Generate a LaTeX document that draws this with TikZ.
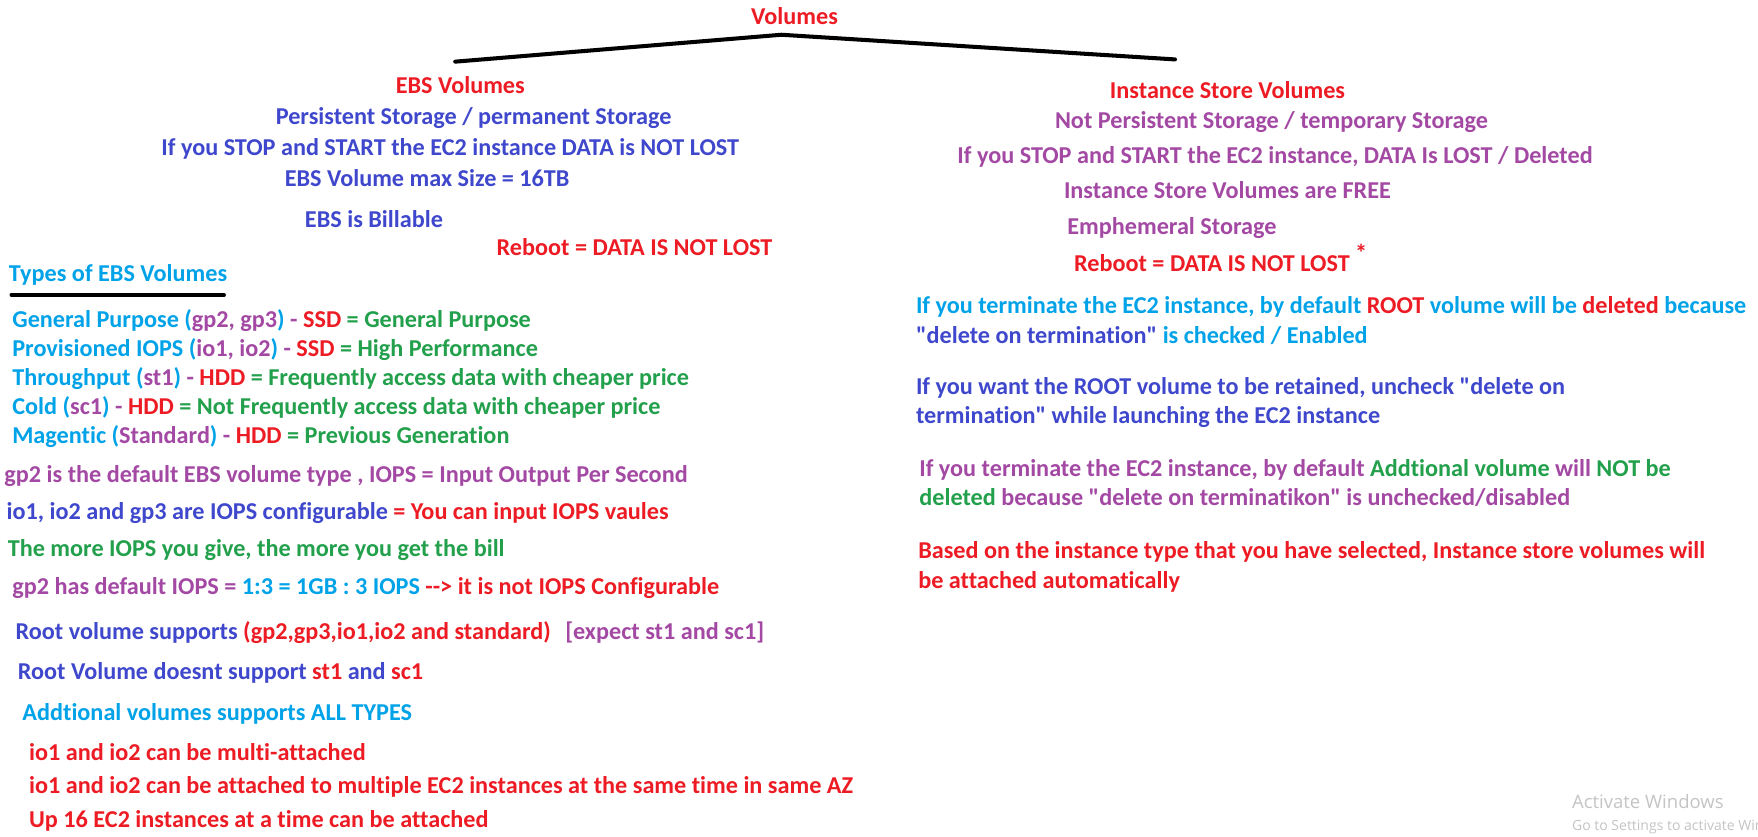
\documentclass[tikz,border=0pt]{standalone}
\usepackage{fontspec}
\setmainfont{Carlito}[Ligatures={TeX,NoCommon}]
\newfontfamily\wmfont{Open Sans}
\definecolor{cRed}{HTML}{ED1C24}
\definecolor{cInd}{HTML}{3F48CC}
\definecolor{cPur}{HTML}{A349A4}
\definecolor{cCy}{HTML}{00A2E8}
\definecolor{cGr}{HTML}{22A04C}
\definecolor{cWm}{HTML}{C4C4C4}
\newcommand{\rd}[1]{\textcolor{cRed}{#1}}
\newcommand{\bl}[1]{\textcolor{cInd}{#1}}
\newcommand{\pu}[1]{\textcolor{cPur}{#1}}
\newcommand{\cy}[1]{\textcolor{cCy}{#1}}
\newcommand{\gr}[1]{\textcolor{cGr}{#1}}
\newcommand{\dq}{\XeTeXglyph\XeTeXcharglyph"22\relax}
\begin{document}
\begin{tikzpicture}[x=1pt,y=-1pt,
  txt/.style={anchor=base west,inner sep=0pt,outer sep=0pt,font=\fontsize{21.6}{25}\selectfont\bfseries},
  wm/.style={anchor=base west,inner sep=0pt,text=cWm},
  thickline/.style={line width=3.6pt,line cap=round,draw=black}]
\useasboundingbox[fill=white] (0,0) rectangle (1568,746);
% top
\node[txt,text=cRed] (vol) at (670,22) {Volumes};
\coordinate (tl) at (406,55);
\coordinate (tp) at (697,31);
\coordinate (tr) at (1048,53);
\draw[thickline] (tl) -- (tp) -- (tr);
% left column
\node[txt,text=cRed] (ebs) at (353,83) {EBS Volumes};
\node[txt,text=cInd] (e1) at (246,111) {Persistent Storage / permanent Storage};
\node[txt,text=cInd] (e2) at (144,139) {If you STOP and START the EC2 instance DATA is NOT LOST};
\node[txt,text=cInd] (e3) at (254,166) {EBS Volume max Size = 16TB};
\node[txt,text=cInd] (e4) at (272,203) {EBS is Billable};
\node[txt,text=cRed] (e5) at (443,228) {Reboot = DATA IS NOT LOST};
\node[txt,text=cCy] (types) at (8,251) {Types of EBS Volumes};
\coordinate (ul) at (10,263);
\coordinate (ur) at (200,263);
\draw[thickline,line width=3pt] (ul) -- (ur);
\node[txt] (t1) at (11,292) {\cy{General Purpose (}\pu{gp2, gp3}\cy{)} \pu{-} \rd{SSD} \gr{= General Purpose}};
\node[txt] (t2) at (11,318) {\cy{Provisioned IOPS (}\pu{io1, io2}\cy{)} \pu{-} \rd{SSD} \gr{= High Performance}};
\node[txt] (t3) at (11,344) {\cy{Throughput (}\pu{st1}\cy{)} \pu{-} \rd{HDD} \gr{= Frequently access data with cheaper price}};
\node[txt] (t4) at (11,370) {\cy{Cold (}\pu{sc1}\cy{)} \pu{-} \rd{HDD} \gr{= Not Frequently access data with cheaper price}};
\node[txt] (t5) at (11,396) {\cy{Magentic (}\pu{Standard}\cy{)} \pu{-} \rd{HDD} \gr{= Previous Generation}};
\node[txt,text=cPur] (g1) at (4,430) {gp2 is the default EBS volume type , IOPS = Input Output Per Second};
\node[txt] (g2) at (6,463) {\bl{io1, io2 and gp3 are IOPS configurable} \rd{= You can input IOPS vaules}};
\node[txt,text=cGr] (g3) at (7,496) {The more IOPS you give, the more you get the bill};
\node[txt] (g4) at (11,530) {\pu{gp2 has default IOPS =} \cy{1:3 = 1GB : 3 IOPS} \rd{{-}{-}> it is not IOPS Configurable}};
\node[txt] (g5) at (14,570) {\bl{Root volume supports} \rd{(gp2,gp3,io1,io2 and standard)}\hspace{0.6em}\pu{[expect st1 and sc1]}};
\node[txt] (g6) at (16,606) {\bl{Root Volume doesnt support} \rd{st1} \bl{and} \rd{sc1}};
\node[txt,text=cCy] (g7) at (20,643) {Addtional volumes supports ALL TYPES};
\node[txt,text=cRed] (m1) at (26,678) {io1 and io2 can be multi-attached};
\node[txt,text=cRed] (m2) at (26,708) {io1 and io2 can be attached to multiple EC2 instances at the same time in same AZ};
\node[txt,text=cRed] (m3) at (26,738) {Up 16 EC2 instances at a time can be attached};
% right column
\node[txt,text=cRed] (isv) at (990,88) {Instance Store Volumes};
\node[txt,text=cPur] (i1) at (941,115) {Not Persistent Storage / temporary Storage};
\node[txt,text=cPur] (i2) at (854,146) {If you STOP and START the EC2 instance, DATA Is LOST / Deleted};
\node[txt,text=cPur] (i3) at (949,177) {Instance Store Volumes are FREE};
\node[txt,text=cPur] (i4) at (952,209) {Emphemeral Storage};
\node[txt,text=cRed] (i5) at (958,242) {Reboot = DATA IS NOT LOST \raisebox{0.4em}{*}};
\node[txt] (r1) at (817,280) {\cy{If you terminate the EC2 instance, by default} \rd{ROOT} \cy{volume will be} \rd{deleted} \cy{because}};
\node[txt] (r2) at (817,306) {\bl{\dq delete on termination\dq} \cy{is checked / Enabled}};
\node[txt,text=cInd] (r3) at (817,352) {If you want the ROOT volume to be retained, uncheck \dq delete on};
\node[txt,text=cInd] (r4) at (817,378) {termination\dq{} while launching the EC2 instance};
\node[txt] (r5) at (820,425) {\pu{If you terminate the EC2 instance, by default} \gr{Addtional volume} \pu{will} \gr{NOT be}};
\node[txt] (r6) at (820,451) {\gr{deleted} \pu{because \dq delete on terminatikon\dq{} is unchecked/disabled}};
\node[txt,text=cRed] (r7) at (819,498) {Based on the instance type that you have selected, Instance store volumes will};
\node[txt,text=cRed] (r8) at (819,525) {be attached automatically};
% watermark
\begin{scope}
\clip (0,0) rectangle (1568,746);
\node[wm,font=\wmfont\fontsize{16.5}{20}\selectfont] (aw) at (1402,721) {Activate Windows};
\node[wm,font=\wmfont\fontsize{12.5}{15}\selectfont] (gs) at (1402,741) {Go to Settings to activate Windows.};
\end{scope}
\end{tikzpicture}
\end{document}
